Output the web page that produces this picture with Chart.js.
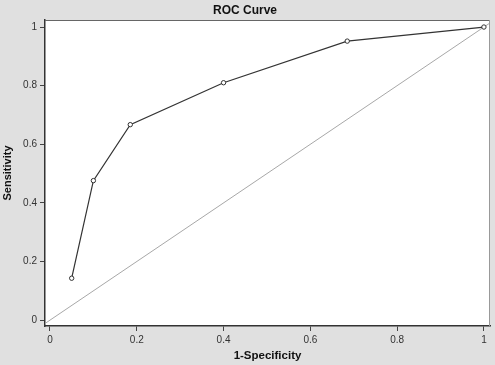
<!DOCTYPE html>
<html>
<head>
<meta charset="utf-8">
<script src="https://cdn.jsdelivr.net/npm/chart.js@4.4.0/dist/chart.umd.min.js"></script>
<style>
    html, body { margin: 0; padding: 0; background: #e0e0e0; }
    #wrap { width: 495px; height: 365px; }
</style>
</head>
<body>
<div id="wrap"><canvas id="rocChart" width="495" height="365"></canvas></div>
<script>
// 1-Specificity / Sensitivity
const fpr = [0.05, 0.10, 0.185, 0.40, 0.685, 1.0];
const tpr = [0.143, 0.476, 0.667, 0.810, 0.952, 1.0];
const xTicks = [0, 0.2, 0.4, 0.6, 0.8, 1];
const yTicks = [0, 0.2, 0.4, 0.6, 0.8, 1];

const xMin = -0.0115, xMax = 1.014;
const yMin = -0.02, yMax = 1.024;

const fmt = v => String(Number(v.toFixed(1)));

// nền trắng cho vùng vẽ + khung
const plotBox = {
    id: 'plotBox',
    beforeDraw(chart) {
        const a = chart.chartArea;
        const ctx = chart.ctx;
        ctx.save();
        ctx.fillStyle = '#ffffff';
        ctx.fillRect(a.left, a.top, a.right - a.left, a.bottom - a.top);
        ctx.restore();
    },
    afterDraw(chart) {
        const a = chart.chartArea;
        const ctx = chart.ctx;
        ctx.save();
        ctx.lineWidth = 1;
        ctx.strokeStyle = '#666';
        ctx.beginPath();
        ctx.moveTo(a.left, a.top + 0.5);
        ctx.lineTo(a.right - 0.5, a.top + 0.5);
        ctx.stroke();
        ctx.strokeStyle = '#999';
        ctx.beginPath();
        ctx.moveTo(a.right - 0.5, a.top);
        ctx.lineTo(a.right - 0.5, a.bottom);
        ctx.stroke();
        ctx.restore();
    }
};

const ctx = document.getElementById('rocChart').getContext('2d');
new Chart(ctx, {
    type: 'scatter',
    data: {
        datasets: [{
            label: 'ROC',
            data: fpr.map((x, i) => ({ x: x, y: tpr[i] })),
            showLine: true,
            borderColor: '#333',
            borderWidth: 1.2,
            pointRadius: 2.2,
            pointBorderWidth: 1,
            pointBackgroundColor: '#ffffff',
            pointBorderColor: '#333',
            tension: 0
        }, {
            label: 'Reference',
            data: [{ x: xMin, y: xMin }, { x: xMax, y: xMax }],
            showLine: true,
            borderColor: '#a8a8a8',
            borderWidth: 1,
            pointRadius: 0
        }]
    },
    options: {
        responsive: false,
        animation: false,
        layout: { padding: { left: 0, right: 5, top: 0, bottom: 0 } },
        plugins: {
            legend: { display: false },
            tooltip: { enabled: false },
            title: {
                display: true,
                text: 'ROC Curve',
                color: '#111',
                font: { family: 'Liberation Sans, Arial', size: 12, weight: 'bold' },
                padding: { top: 3, bottom: 2.6 }
            }
        },
        scales: {
            x: {
                type: 'linear',
                min: xMin,
                max: xMax,
                afterBuildTicks: s => { s.ticks = xTicks.map(v => ({ value: v })); },
                afterFit: s => { s.height = 39; },
                ticks: {
                    color: '#333',
                    padding: 3,
                    maxRotation: 0,
                    callback: v => fmt(v),
                    font: { family: 'Liberation Sans, Arial', size: 10 }
                },
                grid: { display: true, drawOnChartArea: false, drawTicks: true, tickLength: 5, color: '#444' },
                border: { display: true, color: '#333', width: 1.5 },
                title: {
                    display: true,
                    text: '1-Specificity',
                    color: '#111',
                    font: { family: 'Liberation Sans, Arial', size: 11.5, weight: 'bold' },
                    padding: { top: 0, bottom: 2 }
                }
            },
            y: {
                type: 'linear',
                min: yMin,
                max: yMax,
                afterBuildTicks: s => { s.ticks = yTicks.map(v => ({ value: v })); },
                afterFit: s => { s.width = 45; },
                ticks: {
                    color: '#333',
                    padding: 3,
                    callback: v => fmt(v),
                    font: { family: 'Liberation Sans, Arial', size: 10 }
                },
                grid: { display: true, drawOnChartArea: false, drawTicks: true, tickLength: 5, color: '#444' },
                border: { display: true, color: '#333', width: 1.5 },
                title: {
                    display: true,
                    text: 'Sensitivity',
                    color: '#111',
                    font: { family: 'Liberation Sans, Arial', size: 11, weight: 'bold' },
                    padding: { top: 1, bottom: 0 }
                }
            }
        }
    },
    plugins: [plotBox]
});
</script>
</body>
</html>
